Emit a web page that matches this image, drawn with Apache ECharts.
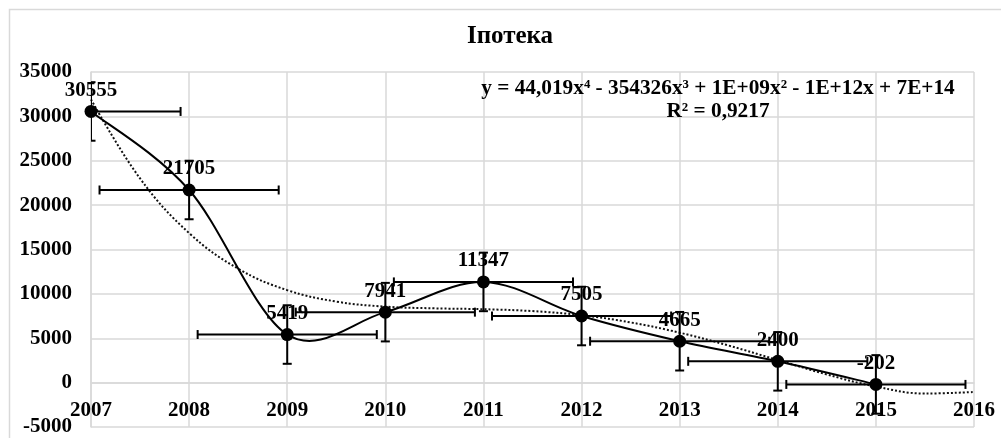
<!DOCTYPE html>
<html>
<head>
<meta charset="utf-8">
<script src="https://cdn.jsdelivr.net/npm/echarts@6/dist/echarts.min.js"></script>
<style>
html,body{margin:0;padding:0;background:#fff;}
#chart{width:1001px;height:438px;}
</style>
</head>
<body>
<div id="chart"></div>
<script>
// ---- data ----
var years = [2007, 2008, 2009, 2010, 2011, 2012, 2013, 2014, 2015];
var values = [30555, 21705, 5419, 7941, 11347, 7505, 4665, 2400, -202];
var errY = 3298;     // vertical error bar (±)
var errX = 0.913;    // horizontal error bar (±)
var trendX = [2007, 2007.5, 2008, 2008.5, 2009, 2009.5, 2010, 2010.5, 2011, 2011.5,
              2012, 2012.5, 2013, 2013.5, 2014, 2014.5, 2015, 2015.5, 2016];
var trendValues = [31911, 23005, 16848, 12834, 10421, 9134, 8564, 8369, 8271, 8059,
                   7590, 6784, 5627, 4174, 2544, 921, -442, -1229, -1056];
var yTicks = [-5000, 0, 5000, 10000, 15000, 20000, 25000, 30000, 35000];
var titleText = 'Іпотека';
var eqLine1 = 'y = 44,019x⁴ - 354326x³ + 1E+09x² - 1E+12x + 7E+14';
var eqLine2 = 'R² = 0,9217';

var FONT = '"Liberation Serif", "Times New Roman", serif';
var GRID = '#d9d9d9';
var GRID_TOP = 72, GRID_BOTTOM = 11, H = 438;

var pts = years.map(function (y, i) { return [y, values[i]]; });
var trendPts = trendX.map(function (x, i) { return [x, trendValues[i]]; });

// the category axis crosses the value axis at 0 (as in Excel): shift it up by the pixel height of [min, 0]
var yMin = yTicks[0], yMax = yTicks[yTicks.length - 1];
var plotH = H - GRID_TOP - GRID_BOTTOM;
var zeroOffset = -plotH * (0 - yMin) / (yMax - yMin);

var chart = echarts.init(document.getElementById('chart'));
chart.setOption({
  animation: false,
  backgroundColor: '#fff',
  grid: { left: 91, right: 27, top: GRID_TOP, bottom: GRID_BOTTOM, containLabel: false, outerBoundsMode: 'none' },
  xAxis: {
    type: 'value', min: 2007, max: 2016, interval: 1,
    position: 'bottom', offset: zeroOffset,
    axisLine: { show: true, onZero: false, lineStyle: { color: GRID, width: 1.5 } },
    axisTick: { show: false },
    splitLine: { show: true, lineStyle: { color: GRID, width: 1.5 } },
    axisLabel: {
      margin: 17, color: '#000', fontFamily: FONT, fontWeight: 'bold', fontSize: 21,
      showMinLabel: true, showMaxLabel: true,
      formatter: function (v) { return String(v); }
    }
  },
  yAxis: {
    type: 'value', min: yMin, max: yMax, interval: 5000,
    axisLine: { show: true, onZero: false, lineStyle: { color: GRID, width: 1.5 } },
    axisTick: { show: false },
    splitLine: { show: true, lineStyle: { color: GRID, width: 1.5 } },
    axisLabel: {
      margin: 19, color: '#000', fontFamily: FONT, fontWeight: 'bold', fontSize: 21,
      formatter: function (v) { return String(v); }
    }
  },
  graphic: [
    { type: 'rect', silent: true, z: -10,
      shape: { x: 9.5, y: 9.5, width: 1200, height: 600 },
      style: { fill: 'none', stroke: GRID, lineWidth: 1.5 } },
    { type: 'text', x: 510, y: 37, z: 10,
      style: { text: titleText, font: 'bold 25px ' + FONT, fill: '#000',
               textAlign: 'center', textVerticalAlign: 'middle' } },
    { type: 'text', x: 718, y: 88, z: 10,
      style: { text: eqLine1, font: 'bold 21.3px ' + FONT, fill: '#000',
               textAlign: 'center', textVerticalAlign: 'middle' } },
    { type: 'text', x: 718, y: 111, z: 10,
      style: { text: eqLine2, font: 'bold 21.3px ' + FONT, fill: '#000',
               textAlign: 'center', textVerticalAlign: 'middle' } }
  ],
  series: [
    {
      name: 'trend', type: 'line', data: trendPts, smooth: 0.4,
      symbol: 'none', z: 2, silent: true,
      lineStyle: { color: '#111', width: 2, type: [2, 2] }
    },
    {
      name: 'errors', type: 'custom', data: pts, z: 3, clip: true, silent: true,
      renderItem: function (params, api) {
        var x = api.value(0), y = api.value(1);
        var l = api.coord([x - errX, y]), r = api.coord([x + errX, y]);
        var t = api.coord([x, y + errY]), b = api.coord([x, y - errY]);
        var c = 4.5;
        var st = { stroke: '#000', lineWidth: 2 };
        var lines = [
          [l[0], l[1], r[0], r[1]],
          [l[0], l[1] - c, l[0], l[1] + c],
          [r[0], r[1] - c, r[0], r[1] + c],
          [t[0], t[1], b[0], b[1]],
          [t[0] - c, t[1], t[0] + c, t[1]],
          [b[0] - c, b[1], b[0] + c, b[1]]
        ];
        return {
          type: 'group',
          children: lines.map(function (s) {
            return { type: 'line', shape: { x1: s[0], y1: s[1], x2: s[2], y2: s[3] }, style: st };
          })
        };
      }
    },
    {
      // Excel-style smoothed line (Catmull-Rom in pixel space), one segment per point
      name: 'smooth', type: 'custom', data: pts, z: 4, silent: true,
      renderItem: function (params, api) {
        var i = params.dataIndex, n = pts.length;
        if (i >= n - 1) return null;
        function P(k) {
          k = Math.max(0, Math.min(n - 1, k));
          return api.coord(pts[k]);
        }
        var p0 = P(i - 1), p1 = P(i), p2 = P(i + 1), p3 = P(i + 2);
        var c1 = [p1[0] + (p2[0] - p0[0]) / 6, p1[1] + (p2[1] - p0[1]) / 6];
        var c2 = [p2[0] - (p3[0] - p1[0]) / 6, p2[1] - (p3[1] - p1[1]) / 6];
        return {
          type: 'bezierCurve',
          shape: { x1: p1[0], y1: p1[1], x2: p2[0], y2: p2[1],
                   cpx1: c1[0], cpy1: c1[1], cpx2: c2[0], cpy2: c2[1] },
          style: { stroke: '#000', lineWidth: 2, fill: 'none' }
        };
      }
    },
    {
      name: 'Іпотека', type: 'line', data: pts, z: 5,
      symbol: 'circle', symbolSize: 13,
      itemStyle: { color: '#000' },
      lineStyle: { width: 0, opacity: 0 },
      label: {
        show: true, position: 'top', distance: 4, color: '#000',
        fontFamily: FONT, fontWeight: 'bold', fontSize: 21,
        formatter: function (p) { return String(p.value[1]); }
      }
    }
  ]
});
</script>
</body>
</html>
